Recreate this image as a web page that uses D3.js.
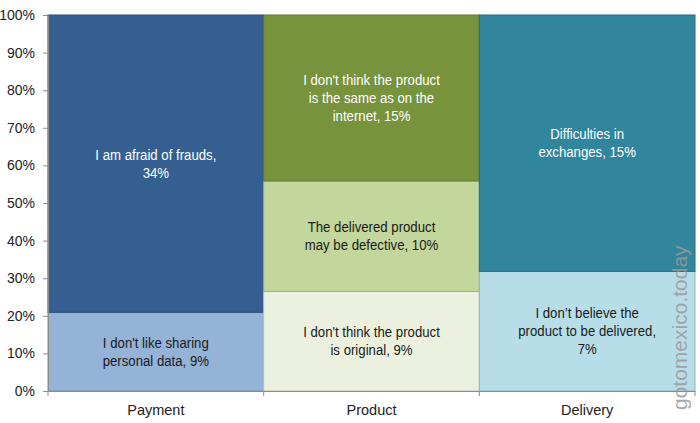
<!DOCTYPE html>
<html><head><meta charset="utf-8">
<script src="https://cdn.jsdelivr.net/npm/d3@7"></script>
<style>body{margin:0;background:#fff}svg{display:block}</style>
</head><body>
<svg id="c" width="700" height="423"></svg>
<script>
const categories = ["Payment", "Product", "Delivery"];
// segments per category, bottom to top
const segCategory = ["Payment","Payment","Product","Product","Product","Delivery","Delivery"];
const segValues   = [9, 34, 9, 10, 15, 7, 15];
const segLabels   = [
  "I don't like sharing\npersonal data, 9%",
  "I am afraid of frauds,\n34%",
  "I don't think the product\nis original, 9%",
  "The delivered product\nmay be defective, 10%",
  "I don't think the product\nis the same as on the\ninternet, 15%",
  "I don’t believe the\nproduct to be delivered,\n7%",
  "Difficulties in\nexchanges, 15%"
];
const segColors = ["#95B3D7","#365F91","#EBF1DE","#C3D69B","#77933C","#B7DEE8","#31859C"];
const segText   = ["#1a1a1a","#ffffff","#1a1a1a","#1a1a1a","#ffffff","#1a1a1a","#ffffff"];
const yTicks = [0,0.1,0.2,0.3,0.4,0.5,0.6,0.7,0.8,0.9,1];

const svg = d3.select("#c");
const m = {l:48, r:5, t:15, b:32};
const W = 700, H = 423;
const font = "'Liberation Sans Narrow','Arial Narrow','Liberation Sans',sans-serif";

const x = d3.scaleBand().domain(categories).range([m.l, W - m.r]).padding(0);
const y = d3.scaleLinear().domain([0,1]).range([H - m.b, m.t]);

// compute stacked shares
const totals = {};
segCategory.forEach((c,i)=>{ totals[c]=(totals[c]||0)+segValues[i]; });
const cum = {};
const segs = segCategory.map((c,i)=>{
  const y0 = (cum[c]||0)/totals[c];
  cum[c] = (cum[c]||0) + segValues[i];
  const y1 = cum[c]/totals[c];
  return {c, y0, y1, label: segLabels[i], color: segColors[i], tc: segText[i]};
});

const g = svg.append("g");
g.selectAll("rect").data(segs).enter().append("rect")
  .attr("x", d=>x(d.c)).attr("width", x.bandwidth())
  .attr("y", d=>y(d.y1)).attr("height", d=>y(d.y0)-y(d.y1))
  .attr("fill", d=>d.color)
  .attr("stroke", d=>d3.color(d.color).darker(0.6))
  .attr("stroke-width", 1);

const lh = 18;
segs.forEach(d=>{
  const lines = d.label.split("\n");
  const cx = x(d.c) + x.bandwidth()/2;
  const cy = (y(d.y0)+y(d.y1))/2;
  const t = g.append("text").attr("text-anchor","middle")
    .attr("transform", `translate(${cx},${cy}) scale(0.91,1)`)
    .attr("font-family", font).attr("font-size", 14.5).attr("fill", d.tc);
  lines.forEach((ln,i)=>{
    t.append("tspan").attr("x", 0)
      .attr("y", (i - (lines.length-1)/2)*lh + 5).text(ln);
  });
});

// y axis
const ya = svg.append("g").attr("transform", `translate(${m.l},0)`)
  .call(d3.axisLeft(y).tickValues(yTicks).tickFormat(d3.format(".0%")).tickSize(5).tickPadding(8));
ya.select(".domain").attr("stroke","#8c8c8c");
ya.selectAll(".tick line").attr("stroke","#8c8c8c");
ya.selectAll("text").attr("font-family", font).attr("font-size", 14).attr("fill","#222");

// x axis
const xa = svg.append("g").attr("transform", `translate(0,${H - m.b})`)
  .call(d3.axisBottom(x).tickSize(0).tickPadding(14));
xa.select(".domain").attr("stroke","#8c8c8c");
xa.selectAll("text").attr("font-family", font).attr("font-size", 14.5).attr("fill","#222");
const bounds = categories.map(c=>x(c)).concat([x(categories[categories.length-1])+x.bandwidth()]);
xa.selectAll(".bt").data(bounds).enter().append("line")
  .attr("x1", d=>d).attr("x2", d=>d).attr("y1",0).attr("y2",5).attr("stroke","#8c8c8c");

// watermark
svg.append("text").attr("transform","translate(687,410) rotate(-90)")
  .attr("font-family","'Liberation Sans',Arial,sans-serif").attr("font-size", 21)
  .attr("fill","#9a9a9a").attr("fill-opacity",0.85).text("gotomexico.today");
</script>
</body></html>
